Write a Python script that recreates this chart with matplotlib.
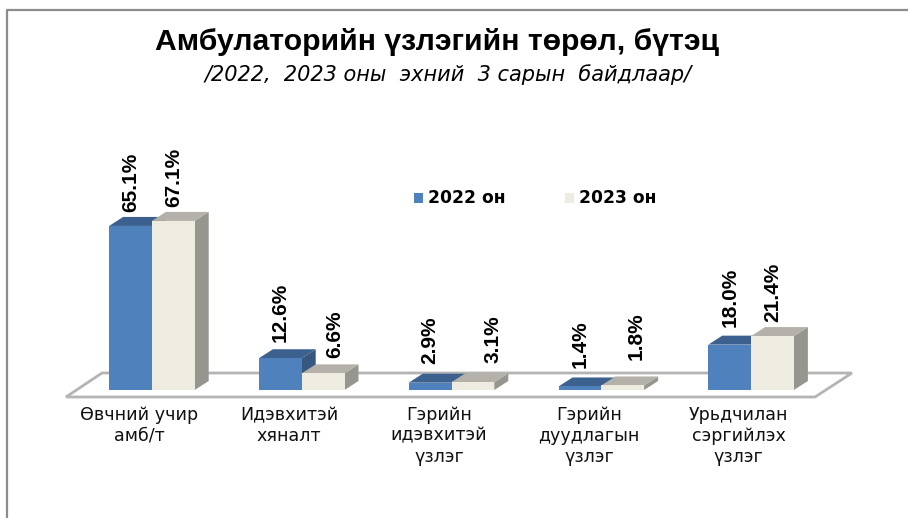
import matplotlib
matplotlib.use("Agg")
import matplotlib.pyplot as plt
from matplotlib.patches import Polygon, Rectangle

plt.rcParams['font.family'] = ['Liberation Sans', 'DejaVu Sans']

categories = ["Өвчний учир\nамб/т", "Идэвхитэй\nхяналт", "Гэрийн\nидэвхитэй\nүзлэг",
              "Гэрийн\nдуудлагын\nүзлэг", "Урьдчилан\nсэргийлэх\nүзлэг"]
values_2022 = [65.1, 12.6, 2.9, 1.4, 18.0]
values_2023 = [67.1, 6.6, 3.1, 1.8, 21.4]
series_names = ["2022 он", "2023 он"]
title = "Амбулаторийн үзлэгийн төрөл, бүтэц"
subtitle = "/2022,  2023 оны  эхний  3 сарын  байдлаар/"

W, H = 908, 518
X0 = 130.5      # px of first category's blue bar centre
XS = 149.8      # px per category
BW = 42.8 / XS  # bar width in category units
BASE = 390      # px of the zero line
YS = 2.52       # px per percent
DX, DY = 14 / XS, 9 / YS   # 3-D depth in data units

fig = plt.figure(figsize=(W / 100, H / 100), dpi=100, facecolor='white')
ax = fig.add_axes([0, 0, 1, 1])
ax.set_xlim(-X0 / XS, (W - X0) / XS)
ax.set_ylim(-(H - BASE) / YS, BASE / YS)
ax.axis('off')

px = lambda p: (p - X0) / XS
py = lambda p: (BASE - p) / YS

# outer frame (top and left only are visible)
ax.plot([px(7), px(7), px(W)], [py(H), py(10), py(10)], color='#8c8c8c', lw=1.6, zorder=1)

# floor
ax.add_patch(Polygon([(px(66), py(397)), (px(102), py(373)), (px(852), py(373)), (px(815), py(397))],
                     closed=True, fc='white', ec='#b4b4b4', lw=2.0, zorder=1))

FRONT = ['#4f81bd', '#eeece1']
TOP = ['#3c618e', '#b3b1a9']
SIDE = ['#36587f', '#96958e']

z = 2
for i in range(len(categories)):
    for s, vals in enumerate((values_2022, values_2023)):
        v = vals[i]
        x0 = i + s * BW - BW / 2
        x1 = x0 + BW
        ax.add_patch(Polygon([(x1, 0), (x1 + DX, DY), (x1 + DX, v + DY), (x1, v)],
                             closed=True, fc=SIDE[s], ec='none', zorder=z))
        ax.add_patch(Polygon([(x0, v), (x0 + DX, v + DY), (x1 + DX, v + DY), (x1, v)],
                             closed=True, fc=TOP[s], ec='none', zorder=z))
        ax.bar(x0, v, BW, align='edge', color=FRONT[s], zorder=z + 0.5)
        z += 1

# data labels: manual placement offsets in px (dx, dy) from the bar's front top centre
off_2022 = [(0.5, 14), (0, 16), (0, 19), (0, 18), (0, 18)]
off_2023 = [(0.5, 14), (12, 15), (20, 19), (13, 25), (0.5, 14)]
for i in range(len(categories)):
    for s, (vals, offs) in enumerate(((values_2022, off_2022), (values_2023, off_2023))):
        v = vals[i]
        xc = i + s * BW
        ax.annotate(f"{v:.1f}%", (xc, v), xytext=(offs[i][0] * 0.72, offs[i][1] * 0.72),
                    textcoords='offset points', rotation=90, ha='center', va='bottom',
                    fontsize=15, fontweight='bold', color='black', zorder=50)

# category labels
for i, c in enumerate(categories):
    ax.text(i + 9 / XS, py(406), c, ha='center', va='top', fontsize=12.6,
            family='DejaVu Sans', color='#111111', linespacing=1.2, zorder=50)

# title
ax.text(px(437), py(42), title, ha='center', va='center', fontsize=21.7, fontweight='bold', color='black')
ax.text(px(448), py(75), subtitle, ha='center', va='center', fontsize=15,
        family='DejaVu Sans', style='italic', color='black')

# legend
for xl, name, col in zip((414, 565), series_names, FRONT):
    ax.add_patch(Rectangle((px(xl), py(203)), 9 / XS, 10 / YS, fc=col, ec='none', zorder=50))
    ax.text(px(xl + 14), py(198), name, ha='left', va='center', fontsize=12.3,
            family='DejaVu Sans', fontweight='bold', zorder=50)

fig.savefig("out.png", dpi=100, facecolor='white')
